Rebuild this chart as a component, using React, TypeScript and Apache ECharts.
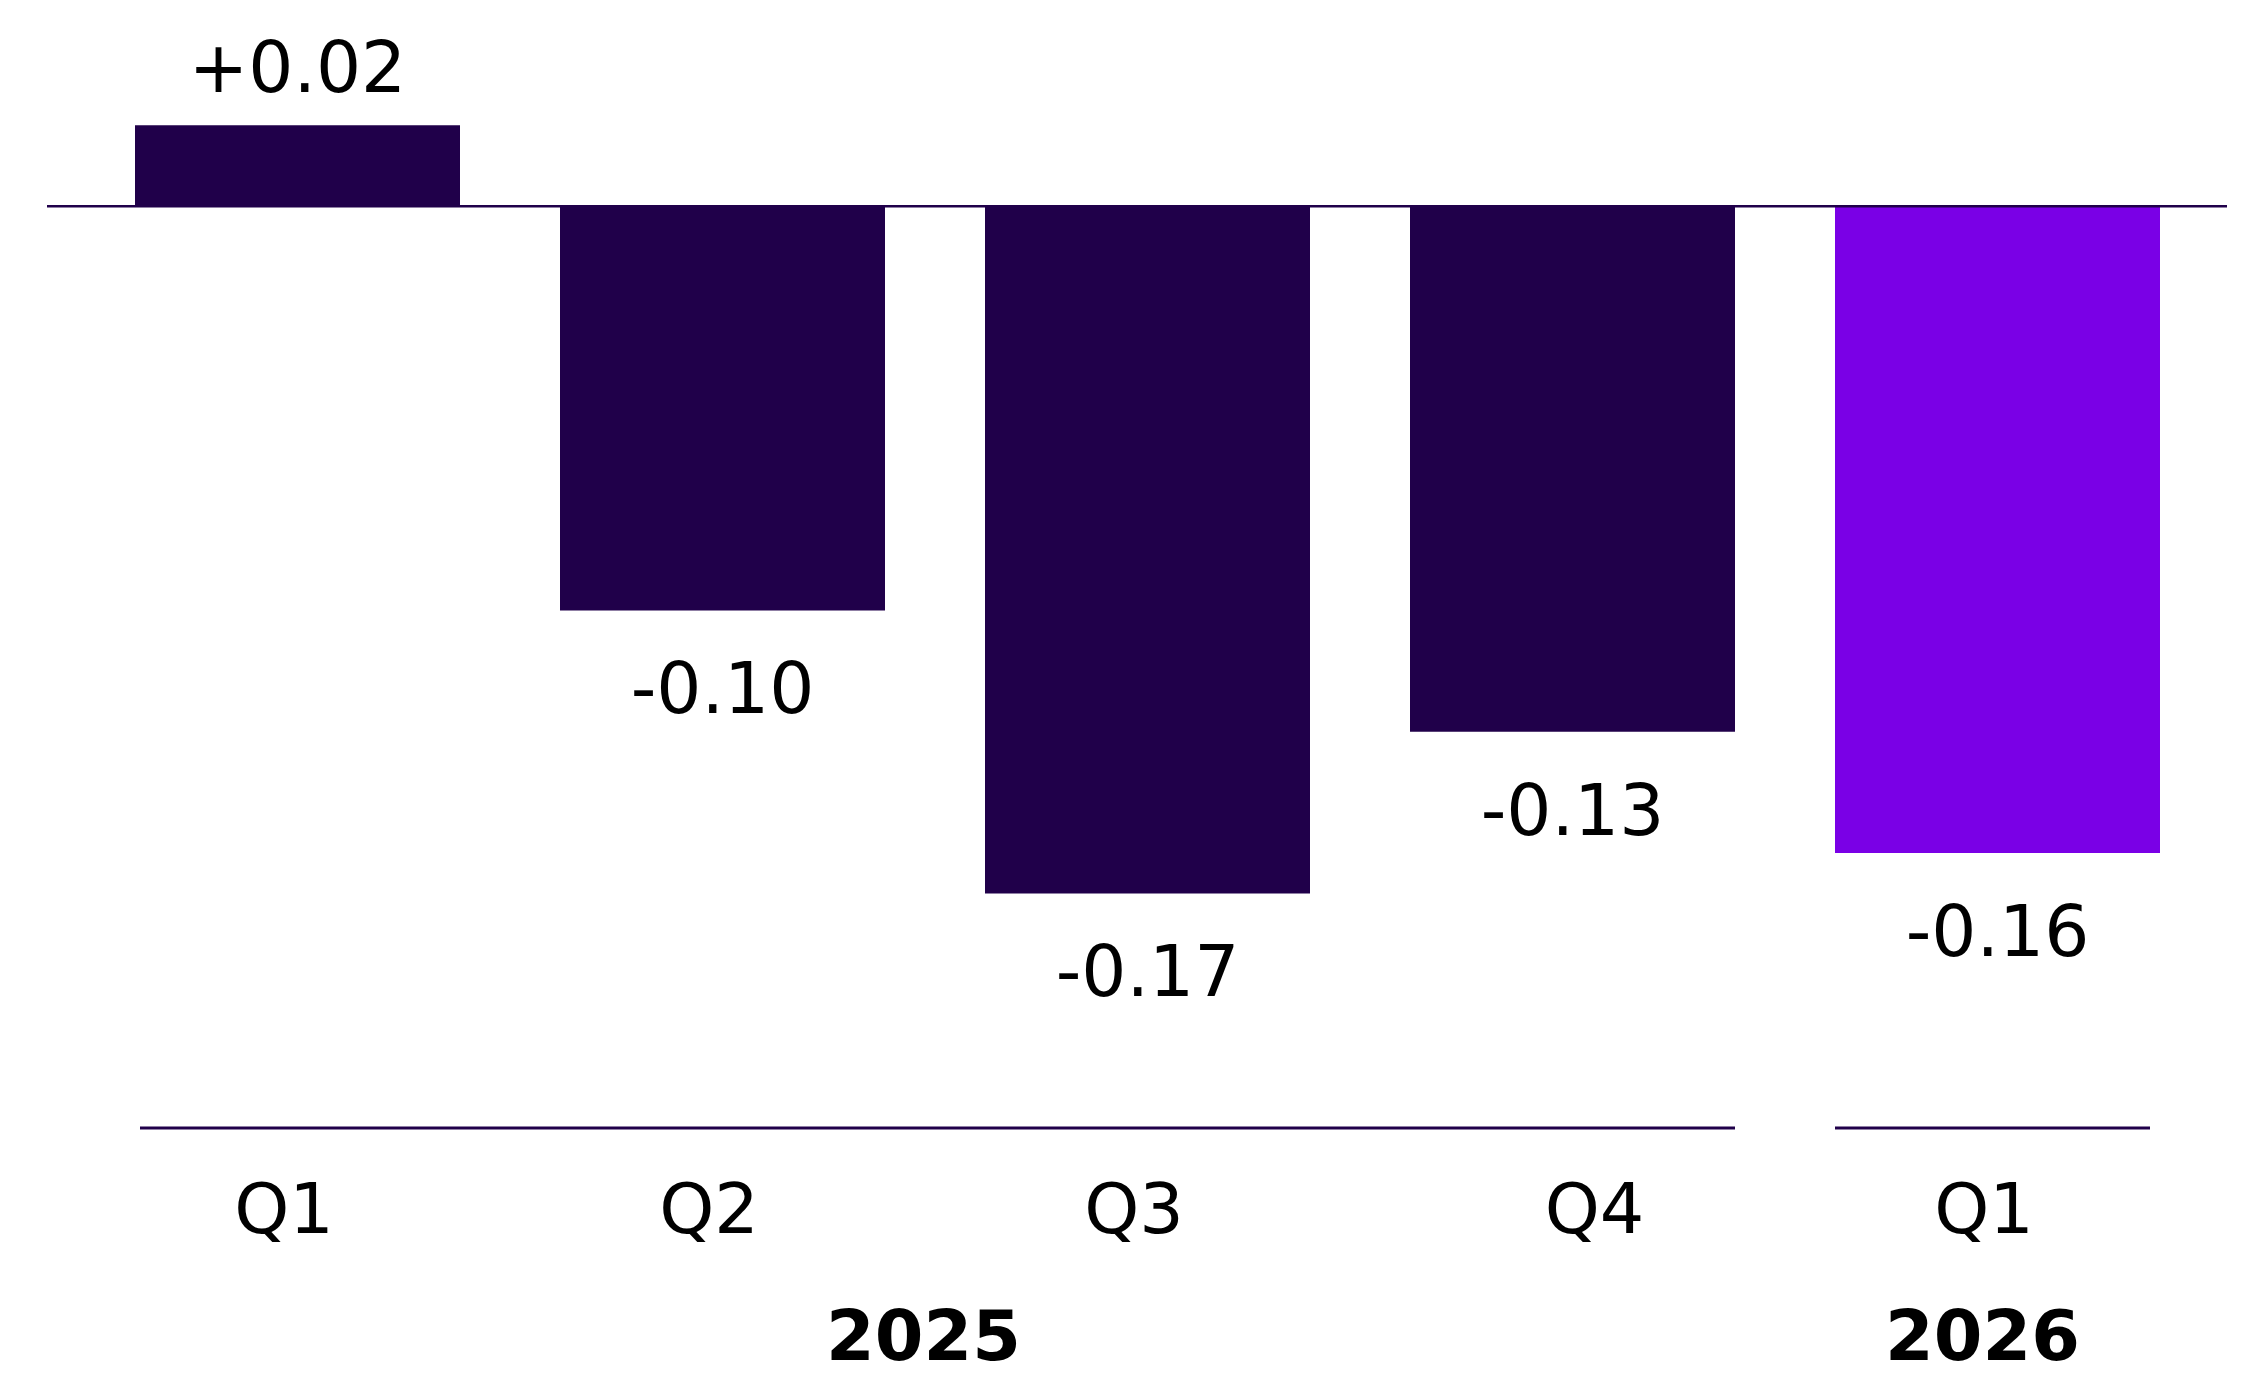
import React, { useEffect, useRef } from 'react';
import * as echarts from 'echarts';

const quarters = ['Q1', 'Q2', 'Q3', 'Q4', 'Q1'];
const values = [0.02, -0.10, -0.17, -0.13, -0.16];
const valueLabels = ['+0.02', '-0.10', '-0.17', '-0.13', '-0.16'];
const years = ['2025', '2026'];
const yearSpans = [[0, 3], [4, 4]];
const barColors = ['#20004A', '#20004A', '#20004A', '#20004A', '#7A00E6'];

const W = 2249;
const H = 1378;
const FONT = 'DejaVu Sans';
const LINE = '#20004A';

export default function App() {
  const ref = useRef<HTMLDivElement>(null);
  useEffect(() => {
    const chart = echarts.init(ref.current!, null, { renderer: 'svg' });
    const barWidth = 325;
    chart.setOption({
      animation: false,
      grid: { left: 85, right: W - 2210, top: 4, bottom: H - 1128 },
      xAxis: {
        type: 'category',
        data: quarters,
        axisLine: { show: false },
        axisTick: { show: false },
        axisLabel: {
          margin: 46,
          formatter: (v: string, i: number) => (i === 3 ? `{r|${v}}` : `{l|${v}}`),
          rich: {
            l: { fontSize: 70, fontFamily: FONT, color: '#000', padding: [0, 27, 0, 0] },
            r: { fontSize: 70, fontFamily: FONT, color: '#000', padding: [0, 0, 0, 44] },
          },
        },
      },
      yAxis: { type: 'value', min: -0.228, max: 0.05, show: false, splitLine: { show: false } },
      series: [
        {
          type: 'bar',
          barWidth,
          data: values.map((v, i) => ({
            value: v,
            itemStyle: { color: barColors[i] },
            label: { position: v >= 0 ? 'top' : 'bottom', distance: v >= 0 ? 22 : 43 },
          })),
          label: {
            show: true,
            fontSize: 71,
            fontFamily: FONT,
            color: '#000',
            formatter: (p: any) => valueLabels[p.dataIndex],
          },
        },
      ],
    });

    const y0 = chart.convertToPixel({ yAxisIndex: 0 }, 0) as number;
    const xs = quarters.map((_, i) => chart.convertToPixel({ xAxisIndex: 0 }, i) as number);
    const half = barWidth / 2;
    const yearShift = [-14, -10];
    const graphic: any[] = [
      {
        type: 'line',
        shape: { x1: 47, y1: y0, x2: 2227, y2: y0 },
        style: { stroke: LINE, lineWidth: 2.5 },
        z: 10,
      },
    ];
    yearSpans.forEach(([a, b], k) => {
      const x1 = xs[a] - half + (k === 0 ? 5 : 0);
      const x2 = xs[b] + half - (k === yearSpans.length - 1 ? 10 : 0);
      graphic.push({
        type: 'line',
        shape: { x1, y1: 1128, x2, y2: 1128 },
        style: { stroke: LINE, lineWidth: 3 },
      });
      graphic.push({
        type: 'text',
        x: (x1 + x2) / 2 + yearShift[k],
        y: 1336,
        style: {
          text: years[k],
          fontSize: 70,
          lineHeight: 70,
          fontWeight: 'bold',
          fontFamily: FONT,
          fill: '#000',
          align: 'center',
          verticalAlign: 'middle',
        },
      });
    });
    chart.setOption({ graphic });

    return () => chart.dispose();
  }, []);
  return (
    <div
      ref={ref}
      style={{ position: 'fixed', left: 0, top: 0, width: W, height: H, background: '#fff' }}
    />
  );
}
